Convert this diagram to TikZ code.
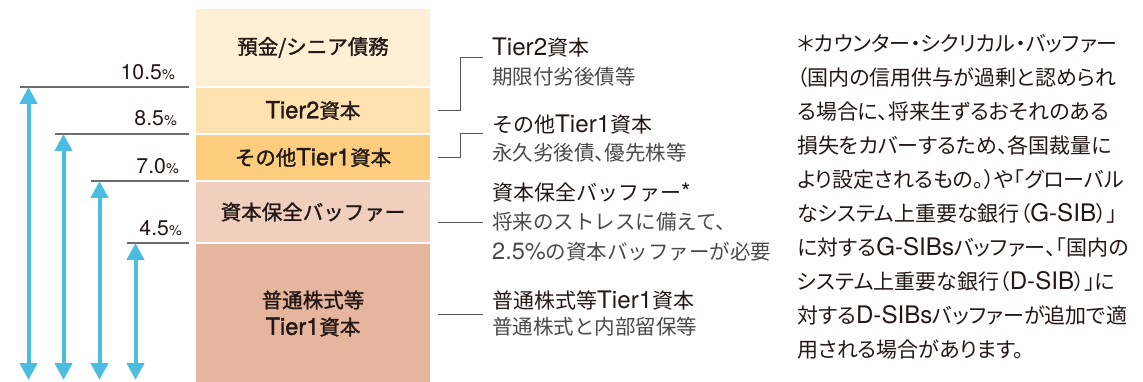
\documentclass[tikz,border=0pt]{standalone}
\usepackage{fontspec}
\setmainfont{Noto Sans CJK JP}[RawFeature=+halt]
\newfontfamily\boxfont{Noto Sans CJK JP}[RawFeature=+halt, FakeBold=1.3]
\newfontfamily\notefont{Noto Sans CJK JP}[RawFeature=+palt]
\newfontfamily\latinfont{TeX Gyre Heros}[Scale=1.15]
\newfontfamily\latinboxfont{TeX Gyre Heros}[Scale=1.15, FakeBold=1.3]
\usetikzlibrary{arrows.meta}

\definecolor{ink}{HTML}{231815}
\definecolor{subgray}{HTML}{4A4A4A}
\definecolor{linkgray}{HTML}{555555}
\definecolor{levelgray}{HTML}{6B6B6B}
\definecolor{capblue}{HTML}{4BBDE0}
\definecolor{seniorfill}{HTML}{FEEFD5}
\definecolor{tiertwofill}{HTML}{FDE1AE}
\definecolor{atonefill}{HTML}{FBCD7C}
\definecolor{bufferfill}{HTML}{F0CFBF}
\definecolor{cetonefill}{HTML}{E5B69D}

\newcommand{\en}[1]{{\latinfont #1}}
\newcommand{\enbox}[1]{{\latinboxfont #1}}
\newcommand{\pct}{{\latinfont\fontsize{12.5}{13}\selectfont\%}}

\tikzset{
    layer/.style={rectangle, draw=white, line width=1.2pt, minimum width=236pt,
        inner sep=0pt, text=ink, align=center,
        font=\boxfont\fontsize{20.5}{27}\selectfont\let\en\enbox},
    level/.style={draw=levelgray, line width=1.3pt},
    span/.style={draw=capblue, line width=4pt,
        {Triangle[width=17pt,length=17pt]}-{Triangle[width=17pt,length=17pt]}},
    rate/.style={anchor=east, inner sep=0pt, text=ink,
        font=\latinfont\fontsize{18.5}{19}\selectfont},
    link/.style={draw=linkgray, line width=1pt},
    headtext/.style={anchor=west, inner sep=0pt, text=ink,
        font=\fontsize{21}{30}\selectfont},
    subtext/.style={anchor=west, inner sep=0pt, text=subgray, align=left,
        font=\fontsize{20.5}{30}\selectfont},
}

\begin{document}
\begin{tikzpicture}[x=1pt,y=-1pt]
    \useasboundingbox (0,0) rectangle (1143,382);

    % capital stack
    \node[layer, fill=seniorfill, minimum height=79pt] (senior) at (313,47.5) {預金/シニア債務};
    \node[layer, fill=tiertwofill, minimum height=47pt] (tiertwo) at (313,110.5) {\en{Tier2}資本};
    \node[layer, fill=atonefill, minimum height=47pt] (atone) at (313,157.5) {その他\en{Tier1}資本};
    \node[layer, fill=bufferfill, minimum height=62pt] (buffer) at (313,212) {資本保全バッファー};
    \node[layer, fill=cetonefill, minimum height=141pt] (cetone) at (313,313.5) {普通株式等\\\en{Tier1}資本};

    % ratio levels
    \node[rate] (rateA) at (175,72) {10.5\pct};
    \node[rate] (rateB) at (177,118) {8.5\pct};
    \node[rate] (rateC) at (179,166) {7.0\pct};
    \node[rate] (rateD) at (182,228) {4.5\pct};

    \coordinate (lvlA) at (20,87);  \coordinate (lvlAend) at (189,87);
    \coordinate (lvlB) at (55,134); \coordinate (lvlBend) at (189,134);
    \coordinate (lvlC) at (91,181); \coordinate (lvlCend) at (189,181);
    \coordinate (lvlD) at (127,243); \coordinate (lvlDend) at (189,243);
    \draw[level] (lvlA) -- (lvlAend);
    \draw[level] (lvlB) -- (lvlBend);
    \draw[level] (lvlC) -- (lvlCend);
    \draw[level] (lvlD) -- (lvlDend);

    \coordinate (floor) at (0,380);
    \draw[span] ([xshift=8.5pt]lvlA) -- ([xshift=8.5pt]lvlA |- floor);
    \draw[span] ([xshift=8.5pt]lvlB) -- ([xshift=8.5pt]lvlB |- floor);
    \draw[span] ([xshift=8.5pt]lvlC) -- ([xshift=8.5pt]lvlC |- floor);
    \draw[span] ([xshift=8.5pt]lvlD) -- ([xshift=8.5pt]lvlD |- floor);

    % explanations
    \node[headtext] (tiertwoHead) at (492,48) {\en{Tier2}資本};
    \node[subtext] (tiertwoSub) at (492,77) {期限付劣後債等};
    \node[headtext] (atoneHead) at (492,125) {その他\en{Tier1}資本};
    \node[subtext] (atoneSub) at (492,153) {永久劣後債、優先株等};
    \node[headtext] (bufferHead) at (492,193) {資本保全バッファー\en{*}};
    \node[subtext] (bufferSub) at (492,237) {将来のストレスに備えて、\\\en{2.5\%}の資本バッファーが必要};
    \node[headtext] (cetoneHead) at (492,300) {普通株式等\en{Tier1}資本};
    \node[subtext] (cetoneSub) at (492,327) {普通株式と内部留保等};

    \coordinate (tiertwoTip) at (483,58);
    \coordinate (atoneTip) at (483,134);
    \coordinate (bufferTip) at (483,223);
    \coordinate (cetoneTip) at (483,314);
    \draw[link] ([xshift=6pt]tiertwo.east) -| ([xshift=-23pt]tiertwoTip) -- (tiertwoTip);
    \draw[link] ([xshift=6pt]atone.east) -| ([xshift=-23pt]atoneTip) -- (atoneTip);
    \draw[link] ([xshift=6pt]buffer.east |- bufferTip) -- (bufferTip);
    \draw[link] ([xshift=6pt]cetone.east |- cetoneTip) -- (cetoneTip);

    % footnote
    \node[anchor=north west, inner sep=0pt, align=left, text=ink,
        font=\notefont\fontsize{21}{34}\selectfont] (note) at (797,34)
        {＊カウンター・シクリカル・バッファー\\
         （国内の信用供与が過剰と認められ\\
         る場合に、将来生ずるおそれのある\\
         損失をカバーするため、各国裁量に\\
         より設定されるもの。）や「グローバル\\
         なシステム上重要な銀行（\en{G-SIB}）」\\
         に対する\en{G-SIBs}バッファー、「国内の\\
         システム上重要な銀行（\en{D-SIB}）」に\\
         対する\en{D-SIBs}バッファーが追加で適\\
         用される場合があります。};
\end{tikzpicture}
\end{document}
